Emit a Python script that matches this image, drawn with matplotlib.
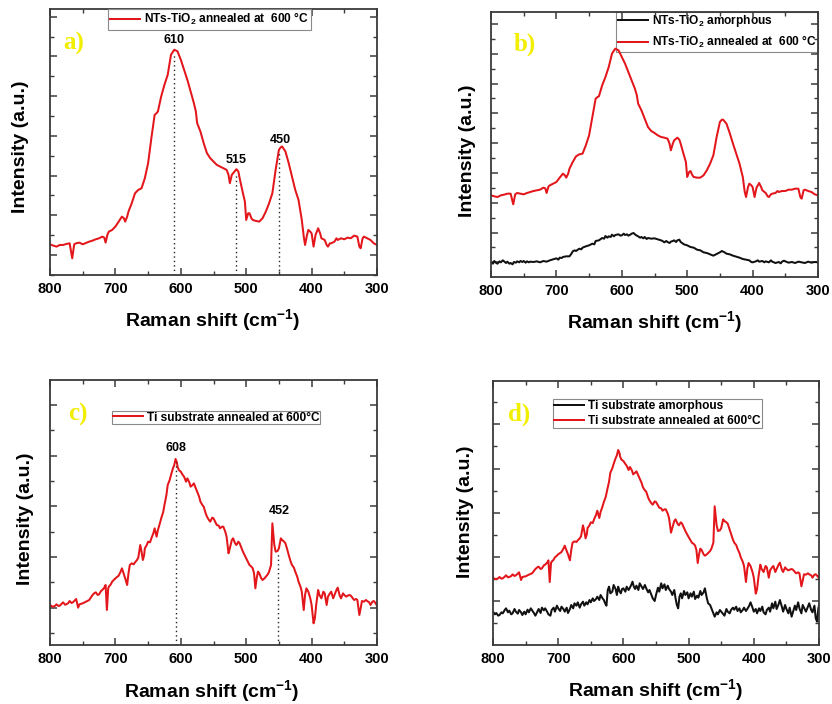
import numpy as np
import matplotlib
matplotlib.use("Agg")
import matplotlib.pyplot as plt
from matplotlib.ticker import FixedLocator, MultipleLocator, NullFormatter

plt.rcParams["font.family"] = ["Liberation Sans", "DejaVu Sans"]
plt.rcParams["font.weight"] = "bold"
plt.rcParams["mathtext.fontset"] = "custom"
plt.rcParams["mathtext.rm"] = "Liberation Sans:bold"
plt.rcParams["mathtext.it"] = "Liberation Sans:bold"
plt.rcParams["mathtext.bf"] = "Liberation Sans:bold"
plt.rcParams["mathtext.default"] = "rm"

# ---------------- data (Raman shift in cm^-1, intensity in a.u.) ----------------
# NTs-TiO2 annealed at 600 C
nt_shift = [800, 795, 790, 785, 780, 775, 770, 766, 763, 760, 755, 750, 745, 740, 735, 730, 725, 720,
            717, 715, 712, 710, 705, 700, 695, 690, 687, 685, 682, 680, 675, 670, 665, 660, 655, 650,
            645, 640, 637, 635, 630, 625, 620, 615, 610, 605, 600, 595, 590, 585, 580, 577, 575, 570,
            565, 560, 555, 550, 545, 540, 535, 530, 527, 525, 522, 520, 515, 512, 510, 505, 502, 500,
            497, 495, 492, 490, 485, 480, 475, 470, 465, 460, 455, 450, 447, 445, 440, 435, 430, 425,
            420, 415, 412, 410, 407, 405, 402, 400, 397, 394, 390, 387, 385, 380, 377, 375, 372, 370,
            365, 362, 360, 355, 350, 345, 340, 335, 330, 327, 325, 322, 320, 315, 310, 305, 300]
nt_annealed_a = [92, 88, 85, 90, 90, 93, 95, 50, 92, 95, 97, 92, 96, 100, 103, 107, 110, 115,
                 112, 97, 122, 130, 135, 145, 160, 175, 170, 160, 175, 190, 215, 245, 255, 260, 290, 335,
                 410, 480, 485, 490, 535, 570, 600, 660, 675, 670, 645, 615, 585, 550, 515, 490, 455, 430,
                 395, 365, 350, 340, 330, 325, 320, 315, 300, 275, 300, 305, 317, 310, 290, 245, 220, 165,
                 185, 185, 170, 165, 162, 160, 170, 190, 215, 245, 315, 375, 383, 385, 370, 335, 295, 255,
                 225, 165, 115, 90, 120, 135, 130, 125, 85, 120, 140, 125, 110, 105, 90, 85, 95, 95,
                 100, 110, 105, 110, 107, 112, 110, 118, 115, 85, 80, 110, 115, 110, 105, 95, 90]
nt_annealed_b = [245, 242, 240, 245, 247, 250, 250, 218, 248, 252, 250, 248, 252, 255, 258, 260, 262, 268,
                 266, 252, 272, 275, 280, 285, 298, 310, 305, 298, 310, 325, 345, 362, 368, 370, 395, 425,
                 480, 535, 540, 542, 575, 600, 630, 670, 685, 680, 660, 640, 615, 590, 565, 545, 520, 500,
                 475, 450, 438, 432, 425, 420, 418, 415, 400, 380, 400, 410, 418, 412, 400, 365, 345, 300,
                 315, 318, 305, 300, 298, 298, 305, 320, 340, 365, 420, 465, 472, 472, 460, 432, 400, 370,
                 340, 300, 255, 240, 270, 280, 275, 270, 240, 268, 282, 270, 260, 252, 242, 240, 248, 250,
                 252, 258, 255, 258, 258, 262, 262, 265, 265, 240, 235, 260, 262, 258, 255, 248, 245]

# NTs-TiO2 amorphous
am_shift = [800, 797, 795, 792, 790, 787, 785, 782, 780, 777, 775, 772, 770, 767, 765, 762, 760, 757,
            755, 752, 750, 747, 745, 742, 740, 735, 730, 725, 720, 715, 710, 705, 700, 697, 695, 692,
            690, 685, 680, 677, 675, 672, 670, 665, 662, 660, 655, 650, 645, 642, 640, 635, 630, 627,
            625, 622, 620, 617, 615, 612, 610, 605, 602, 600, 597, 595, 592, 590, 587, 585, 582, 580,
            577, 575, 572, 570, 567, 565, 562, 560, 555, 550, 545, 540, 537, 535, 532, 530, 527, 525,
            522, 520, 517, 515, 512, 510, 505, 500, 495, 490, 485, 480, 475, 470, 465, 460, 457, 455,
            452, 450, 447, 445, 442, 440, 435, 430, 425, 420, 415, 410, 405, 402, 400, 395, 392, 390,
            385, 382, 380, 375, 372, 370, 365, 360, 357, 355, 352, 350, 345, 340, 335, 330, 325, 320,
            315, 310, 305, 300]
nt_amorphous_b = [45, 40, 48, 42, 40, 47, 44, 50, 47, 42, 46, 40, 42, 38, 45, 43, 47, 44,
                  48, 45, 48, 43, 47, 44, 46, 45, 47, 44, 48, 46, 50, 53, 56, 52, 58, 57,
                  60, 62, 62, 70, 77, 80, 78, 85, 83, 88, 92, 95, 100, 98, 108, 110, 117, 115,
                  123, 118, 122, 120, 127, 122, 126, 128, 124, 125, 130, 126, 128, 124, 127, 130, 132, 128,
                  124, 122, 118, 120, 116, 120, 114, 117, 115, 116, 113, 110, 107, 104, 108, 105, 102, 106,
                  108, 110, 105, 110, 112, 105, 98, 95, 90, 88, 82, 80, 74, 72, 68, 64, 67, 69,
                  72, 74, 78, 76, 73, 70, 68, 64, 61, 58, 54, 52, 50, 45, 44, 47, 50, 46,
                  48, 44, 47, 44, 50, 46, 42, 45, 41, 46, 49, 47, 43, 45, 42, 46, 44, 42,
                  46, 43, 45, 44]

# Ti substrate annealed at 600 C
ti_shift = [800, 797, 795, 792, 790, 787, 785, 782, 780, 777, 775, 772, 770, 767, 765, 762, 760, 757,
            755, 750, 745, 740, 735, 732, 730, 727, 725, 722, 720, 717, 715, 713, 711, 710, 707, 705,
            702, 700, 697, 695, 692, 690, 687, 685, 682, 680, 678, 675, 672, 670, 667, 665, 662, 660,
            658, 656, 655, 652, 650, 647, 645, 642, 640, 637, 635, 632, 630, 627, 625, 622, 620, 617,
            615, 612, 610, 608, 606, 605, 603, 600, 597, 595, 592, 590, 587, 585, 582, 580, 577, 575,
            572, 570, 567, 565, 562, 560, 557, 555, 552, 550, 547, 545, 542, 540, 537, 535, 532, 530,
            527, 525, 522, 520, 517, 515, 512, 510, 507, 505, 502, 500, 497, 495, 492, 490, 488, 486,
            484, 482, 480, 477, 475, 472, 470, 467, 465, 462, 460, 458, 457, 455, 452, 450, 447, 445,
            442, 440, 437, 435, 432, 430, 427, 425, 422, 420, 417, 415, 412, 410, 408, 405, 402, 400,
            397, 395, 393, 390, 388, 385, 382, 380, 377, 375, 372, 370, 367, 365, 362, 360, 357, 355,
            352, 350, 347, 345, 342, 340, 337, 335, 332, 330, 327, 325, 323, 320, 317, 315, 312, 310,
            307, 305, 302, 300]
ti_annealed_c = [120, 116, 115, 118, 122, 117, 118, 124, 128, 121, 122, 126, 132, 126, 128, 134, 138, 112,
                 122, 125, 130, 135, 150, 156, 158, 150, 152, 162, 165, 172, 180, 105, 170, 175, 182, 190,
                 196, 200, 205, 208, 220, 230, 212, 200, 180, 215, 240, 245, 242, 248, 255, 262, 300, 280,
                 255, 270, 290, 300, 310, 308, 320, 335, 350, 325, 345, 365, 380, 398, 420, 450, 480, 495,
                 510, 530, 540, 558, 548, 535, 525, 520, 510, 505, 490, 500, 488, 475, 480, 485, 470, 460,
                 445, 430, 420, 415, 395, 385, 375, 370, 382, 380, 368, 360, 358, 350, 355, 355, 340, 325,
                 275, 290, 315, 320, 305, 300, 310, 305, 290, 280, 268, 260, 248, 240, 235, 230, 215, 170,
                 200, 220, 215, 200, 195, 200, 205, 212, 220, 240, 365, 320, 300, 280, 282, 290, 320, 315,
                 310, 305, 285, 270, 250, 240, 232, 220, 205, 190, 175, 160, 105, 150, 170, 160, 140, 120,
                 65, 80, 120, 165, 150, 140, 160, 155, 120, 145, 155, 160, 140, 150, 165, 172, 148, 140,
                 155, 150, 145, 148, 150, 148, 140, 135, 138, 135, 90, 110, 132, 130, 135, 132, 128, 120,
                 130, 132, 125, 118]
ti_annealed_d = [202, 198, 198, 200, 204, 199, 200, 205, 209, 203, 204, 207, 212, 207, 209, 214, 218, 195,
                 204, 206, 211, 215, 228, 233, 235, 228, 230, 239, 241, 247, 254, 189, 246, 250, 256, 263,
                 268, 272, 276, 279, 289, 298, 282, 272, 254, 285, 307, 311, 309, 314, 320, 326, 359, 342,
                 320, 333, 351, 359, 368, 366, 377, 390, 403, 381, 399, 416, 429, 445, 464, 490, 517, 530,
                 543, 560, 569, 585, 576, 565, 556, 552, 543, 538, 525, 534, 524, 512, 517, 521, 508, 499,
                 486, 473, 464, 460, 442, 434, 425, 421, 431, 429, 419, 412, 410, 403, 407, 407, 394, 381,
                 337, 351, 372, 377, 364, 359, 368, 364, 351, 342, 331, 324, 314, 307, 303, 298, 285, 246,
                 272, 289, 285, 272, 268, 272, 276, 282, 289, 307, 416, 377, 359, 342, 344, 351, 377, 372,
                 368, 364, 346, 333, 316, 307, 300, 289, 276, 263, 250, 237, 189, 228, 246, 237, 219, 202,
                 154, 167, 202, 241, 228, 219, 237, 233, 202, 224, 233, 237, 219, 228, 241, 247, 226, 219,
                 233, 228, 224, 226, 228, 226, 219, 215, 218, 215, 176, 193, 212, 211, 215, 212, 209, 202,
                 211, 212, 206, 200]

# Ti substrate amorphous
tia_shift = [800, 797, 795, 792, 790, 787, 785, 782, 780, 777, 775, 772, 770, 767, 765, 762, 760, 757,
             755, 752, 750, 747, 745, 742, 740, 737, 735, 732, 730, 727, 725, 722, 720, 717, 715, 712,
             710, 707, 705, 702, 700, 697, 695, 692, 690, 687, 685, 682, 680, 677, 675, 672, 670, 667,
             665, 662, 660, 657, 655, 652, 650, 647, 645, 642, 640, 637, 635, 632, 630, 628, 626, 624,
             622, 620, 617, 615, 612, 610, 608, 606, 604, 602, 600, 597, 595, 592, 590, 588, 586, 584,
             582, 580, 577, 575, 572, 570, 567, 565, 562, 560, 557, 555, 552, 550, 547, 545, 542, 540,
             537, 535, 532, 530, 527, 525, 522, 520, 518, 516, 514, 512, 510, 507, 505, 502, 500, 497,
             495, 492, 490, 487, 485, 482, 480, 477, 475, 472, 470, 467, 465, 462, 460, 457, 455, 452,
             450, 447, 445, 442, 440, 437, 435, 432, 430, 427, 425, 422, 420, 417, 415, 412, 410, 407,
             405, 402, 400, 397, 395, 392, 390, 387, 385, 382, 380, 377, 375, 372, 370, 367, 365, 362,
             360, 357, 355, 352, 350, 347, 345, 342, 340, 337, 335, 332, 330, 327, 325, 322, 320, 317,
             315, 312, 310, 307, 305, 303, 301, 300]
ti_amorphous_d = [100, 92, 96, 88, 90, 98, 95, 105, 110, 98, 103, 92, 95, 108, 100, 94, 105, 98,
                  90, 100, 92, 106, 98, 110, 104, 95, 88, 100, 108, 96, 112, 104, 110, 100, 92, 88,
                  105, 112, 100, 118, 110, 102, 115, 108, 100, 112, 96, 108, 120, 110, 125, 118, 128, 112,
                  122, 130, 118, 128, 122, 135, 128, 140, 132, 138, 145, 135, 150, 140, 135, 125, 118, 165,
                  175, 155, 160, 180, 168, 150, 175, 162, 155, 168, 170, 160, 175, 165, 172, 180, 190, 175,
                  168, 178, 165, 185, 175, 168, 180, 170, 158, 165, 150, 140, 132, 150, 172, 160, 185, 170,
                  182, 165, 178, 168, 160, 150, 165, 140, 120, 110, 145, 155, 140, 162, 150, 158, 140, 155,
                  145, 160, 138, 148, 142, 162, 150, 158, 170, 140, 125, 120, 110, 95, 85, 98, 92, 105,
                  100, 93, 88, 108, 100, 95, 105, 112, 106, 115, 102, 110, 98, 105, 112, 102, 108, 118,
                  128, 112, 100, 108, 95, 110, 102, 115, 98, 92, 105, 112, 100, 125, 110, 130, 108, 122,
                  135, 115, 100, 120, 108, 95, 112, 85, 98, 118, 105, 128, 110, 95, 120, 108, 100, 115,
                  125, 105, 98, 118, 80, 70, 110, 118]

# labelled peak positions (cm^-1)
nt_peaks = [610, 515, 450]
ti_peaks = [608, 452]

# ---------------- styling ----------------
RED = "#e3161b"
BLACK = "#111111"
FRAME = "#3a3a3a"
LW = 1.45

W, H = 832, 704
fig = plt.figure(figsize=(W / 100, H / 100), dpi=100)


def add_axes(left, top, right, bottom):
    return fig.add_axes([left / W, 1 - bottom / H, (right - left) / W, (bottom - top) / H])


def style(ax, ymax, major0, step):
    ax.set_xlim(800, 300)
    ax.set_ylim(0, ymax)
    ax.xaxis.set_major_locator(MultipleLocator(100))
    ax.xaxis.set_minor_locator(MultipleLocator(50))
    ax.yaxis.set_major_locator(FixedLocator(np.arange(major0, ymax, step)))
    ax.yaxis.set_minor_locator(FixedLocator(np.arange(major0 - step / 2, ymax, step)))
    ax.yaxis.set_major_formatter(NullFormatter())
    ax.tick_params(which="both", direction="in", top=True, right=True, color=FRAME)
    ax.tick_params(which="major", length=5, width=1.1, labelsize=10.5, pad=5)
    ax.tick_params(which="minor", length=3, width=1.0)
    for lab in ax.get_xticklabels():
        lab.set_fontweight("bold")
    for sp in ax.spines.values():
        sp.set_color(FRAME)
        sp.set_linewidth(1.3)


def letter(ax, txt, x, y):
    ax.text(x, y, txt, transform=ax.transAxes, fontsize=18, fontweight="bold",
            family="Liberation Serif", color="#f2ee00", ha="left", va="center")


def axis_labels(xc, yc, yx, yy):
    fig.text(xc / W, 1 - yc / H, r"Raman shift (cm$^{\mathregular{-1}}$)", fontsize=14,
             fontweight="bold", ha="center", va="center")
    fig.text(yx / W, 1 - yy / H, "Intensity (a.u.)", fontsize=14, fontweight="bold",
             rotation=90, ha="center", va="center")


def peak_marks(ax, shift, vals, peaks, offsets):
    s = np.asarray(shift)[::-1]
    v = np.asarray(vals)[::-1]
    for p, off in zip(peaks, offsets):
        top = np.interp(p, s, v)
        ax.vlines(p, 0, top - 10, colors="#222222", linestyles=(0, (1, 2.2)), lw=1.0)
        ax.text(p + off[0], top + off[1], str(p), fontsize=9, fontweight="bold",
                ha="center", va="bottom")


leg_kw = dict(fancybox=False, framealpha=1, edgecolor="#8a8a8a", fontsize=8.6,
              handlelength=2.5, handletextpad=0.35, borderaxespad=0)

# ---- a) ----
ax = add_axes(50, 9, 377, 275)
ax.plot(nt_shift, nt_annealed_a, color=RED, lw=LW, label="NTs-TiO$_2$ annealed at  600 °C")
peak_marks(ax, nt_shift, nt_annealed_a, nt_peaks, [(0, 10), (0, 10), (-2, 12)])
style(ax, 797, 60, 119)
lg = ax.legend(loc="upper left", bbox_to_anchor=(0.177, 1.0), borderpad=0.2, **leg_kw)
lg.get_frame().set_linewidth(0.8)
letter(ax, "a)", 0.04, 0.872)
axis_labels(213, 320, 21, 147)

# ---- b) ----
ax = add_axes(491, 12, 818, 277)
ax.plot(am_shift, nt_amorphous_b, color=BLACK, lw=LW, label="NTs-TiO$_2$ amorphous")
ax.plot(nt_shift, nt_annealed_b, color=RED, lw=LW, label="NTs-TiO$_2$ annealed at  600 °C")
style(ax, 795, 44, 89.4)
lg = ax.legend(loc="upper right", bbox_to_anchor=(1.0, 1.0), borderpad=0.12, labelspacing=0.4,
               **leg_kw)
lg.get_frame().set_linewidth(0.8)
lg.set_zorder(1)
letter(ax, "b)", 0.068, 0.88)
axis_labels(655, 322, 468, 151)

# ---- c) ----
ax = add_axes(50, 380, 377, 645)
ax.plot(ti_shift, ti_annealed_c, color=RED, lw=LW, label="Ti substrate annealed at 600°C")
peak_marks(ax, ti_shift, ti_annealed_c, ti_peaks, [(0, 14), (-3, 102)])
style(ax, 795, 112, 152)
lg = ax.legend(loc="upper left", bbox_to_anchor=(0.19, 0.883), borderpad=0.05, **leg_kw)
lg.get_frame().set_linewidth(0.8)
letter(ax, "c)", 0.055, 0.87)
axis_labels(212, 691, 25, 519)

# ---- d) ----
ax = add_axes(493, 381, 819, 645)
ax.plot(tia_shift, ti_amorphous_d, color=BLACK, lw=LW, label="Ti substrate amorphous")
ax.plot(ti_shift, ti_annealed_d, color=RED, lw=LW, label="Ti substrate annealed at 600°C")
style(ax, 792, 132, 132.5)
lg = ax.legend(loc="upper left", bbox_to_anchor=(0.184, 0.932), borderpad=0.08, labelspacing=0.25,
               **leg_kw)
lg.get_frame().set_linewidth(0.8)
letter(ax, "d)", 0.045, 0.875)
axis_labels(656, 690, 466, 512)

fig.savefig("out.png", dpi=100)
